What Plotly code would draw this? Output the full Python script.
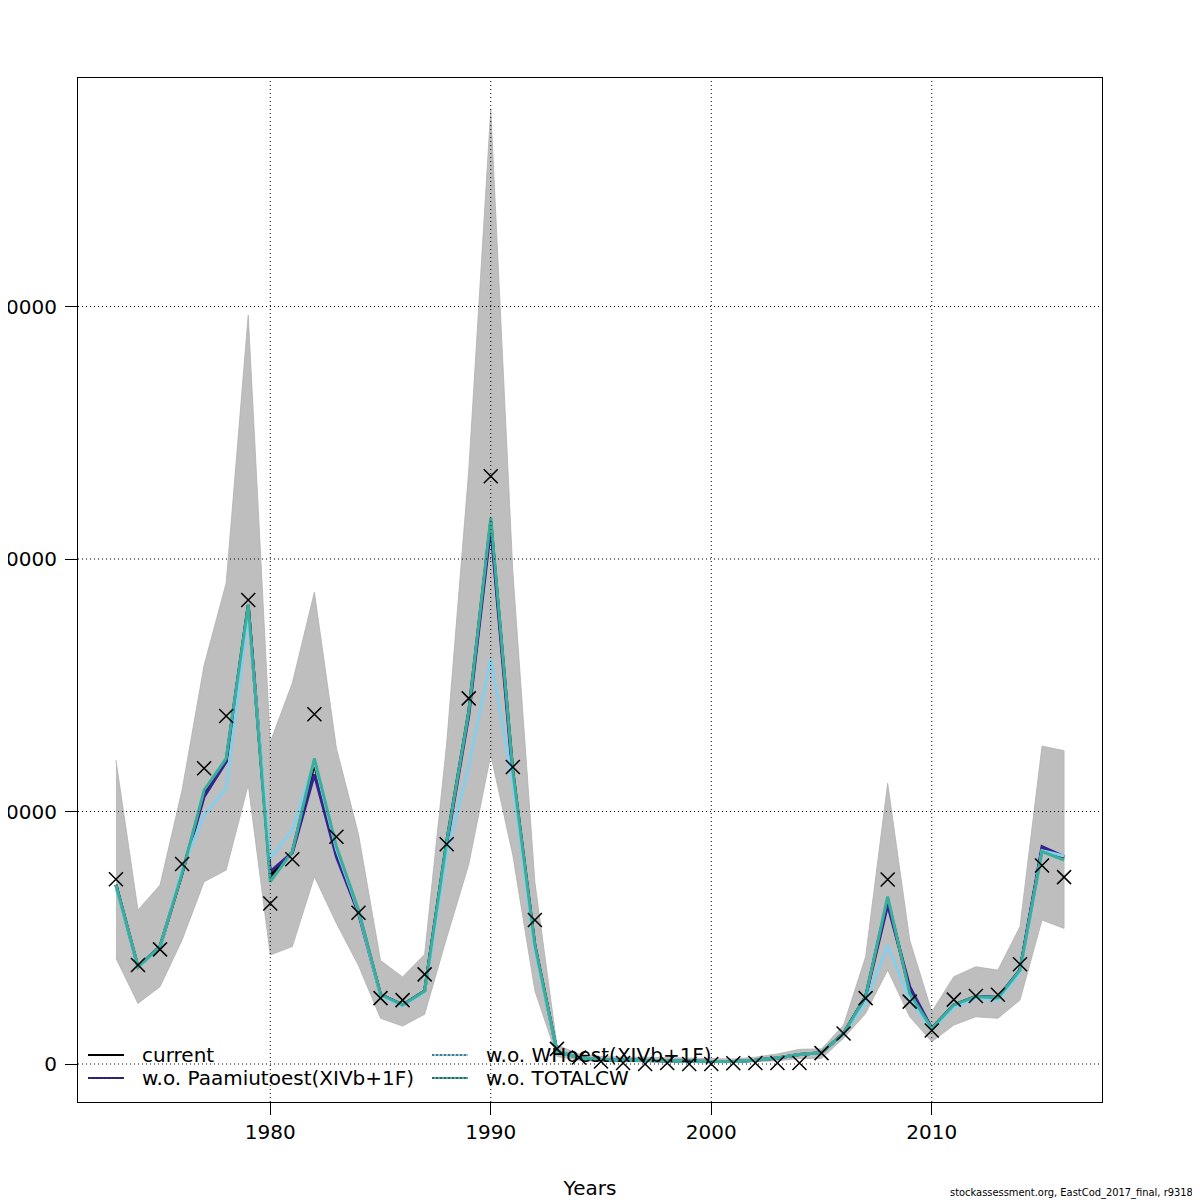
import plotly.graph_objects as go

years = list(range(1973, 2017))

# observed catch (crosses)
observed = [7320, 3920, 4540, 7920, 11710, 13780, 18380, 6360, 8110, 13850,
            9000, 5990, 2610, 2530, 3550, 8700, 14480, 23280, 11760, 5700,
            600, 260, 100, 40, 0, 40, 0, 0, 30, 40,
            40, 40, 430, 1210, 2610, 7310, 2470, 1330, 2550, 2690,
            2740, 3950, 7860, 7400]

current = [7090, 3850, 4650, 7550, 10700, 12000, 18180, 7450, 8400, 11900,
           8400, 6050, 2750, 2340, 2890, 8800, 13950, 21500, 11600, 4700,
           500, 250, 170, 150, 150, 140, 120, 100, 100, 150,
           240, 380, 450, 1210, 2670, 6500, 2900, 1410, 2340, 2670,
           2620, 3720, 8500, 8150]

wo_paamiut = [7090, 3850, 4650, 7550, 10590, 11970, 18100, 7620, 8370, 11470,
              8210, 5970, 2750, 2340, 2890, 8700, 13800, 21250, 11400, 4650,
              500, 250, 170, 150, 150, 140, 120, 100, 100, 150,
              240, 380, 450, 1210, 2670, 6300, 3060, 1410, 2340, 2670,
              2640, 3720, 8610, 8210]

wo_whoest = [7000, 3850, 4600, 7700, 9860, 10920, 17780, 8150, 9270, 12000,
             8500, 6050, 2700, 2300, 2850, 8300, 11800, 16060, 11100, 4500,
             500, 250, 170, 150, 150, 140, 120, 100, 100, 150,
             240, 380, 450, 1190, 2400, 4710, 2530, 1380, 2220, 2600,
             2530, 3600, 8450, 8240]

wo_totalcw = [7090, 3850, 4650, 7550, 10850, 12100, 18180, 7220, 8410, 12100,
              8610, 6100, 2750, 2340, 2890, 8800, 13950, 21640, 11600, 4700,
              500, 250, 170, 150, 150, 140, 120, 100, 100, 150,
              240, 380, 450, 1210, 2670, 6630, 2800, 1410, 2340, 2670,
              2620, 3720, 8410, 8080]

upper = [12040, 6100, 7090, 10850, 15800, 19050, 29660, 12750, 15090, 18690,
         12510, 9100, 4100, 3450, 4340, 12700, 23500, 37800, 19500, 7200,
         750, 400, 300, 270, 270, 250, 220, 200, 200, 270,
         400, 580, 600, 1540, 4250, 11120, 4910, 2070, 3460, 3850,
         3720, 5440, 12590, 12410]

lower = [4190, 2400, 3060, 4910, 7220, 7680, 11050, 4320, 4650, 7420,
         5570, 3900, 1810, 1500, 1970, 5000, 7900, 12240, 8260, 2900,
         300, 150, 100, 80, 80, 70, 60, 50, 50, 80,
         130, 220, 220, 1020, 2000, 3720, 1870, 880, 1540, 1870,
         1810, 2530, 5700, 5370]

x_ticks = [1980, 1990, 2000, 2010]
y_ticks = [0, 10000, 20000, 30000]
y_ticktext = ["0", "10000", "20000", "30000"]

series_names = ["current", "w.o. Paamiutoest(XIVb+1F)", "w.o. WHoest(XIVb+1F)", "w.o. TOTALCW"]
series_colors = ["black", "#35228f", "#87ceeb", "#3aae9c"]
series_dash = ["solid", "dash", "dot", "dot"]

font = "DejaVu Sans"

# the page body adds 8px, so the figure is 1192 wide and the plot box sits at 70..1094
W = 1192
L, T = 70, 70
S = 1024

fig = go.Figure()

# confidence band
fig.add_trace(go.Scatter(x=years + years[::-1], y=upper + lower[::-1],
                         fill="toself", fillcolor="#bebebe",
                         line=dict(color="#b0b0b0", width=0.8),
                         mode="lines", hoverinfo="skip", showlegend=False))

for vals, col in zip([current, wo_paamiut, wo_whoest, wo_totalcw], series_colors):
    fig.add_trace(go.Scatter(x=years, y=vals, mode="lines",
                             line=dict(color=col, width=3), showlegend=False))

fig.add_trace(go.Scatter(x=years, y=observed, mode="markers",
                         marker=dict(symbol="x-thin-open", size=14, color="black",
                                     line=dict(color="black", width=1.5)),
                         showlegend=False))

# dotted grid on top of band
shapes = []
for xv in x_ticks:
    shapes.append(dict(type="line", xref="x", yref="paper", x0=xv, x1=xv, y0=0, y1=1,
                       line=dict(color="black", width=1, dash="1px,3px"), layer="above"))
for yv in y_ticks:
    shapes.append(dict(type="line", xref="paper", yref="y", x0=0, x1=1, y0=yv, y1=yv,
                       line=dict(color="black", width=1, dash="1px,3px"), layer="above"))


# page pixel -> paper coords
def px(v):
    return (v - 8 - L) / S


def py(v):
    return (T + S - (v - 8)) / S


annotations = []
legend_pos = [(88, 1055), (88, 1078), (432, 1055), (432, 1078)]
for name, col, dash, (lx, ly) in zip(series_names, series_colors, series_dash, legend_pos):
    shapes.append(dict(type="line", xref="paper", yref="paper",
                       x0=px(lx), x1=px(lx + 36), y0=py(ly), y1=py(ly),
                       line=dict(color=col, width=2, dash="solid")))
    if dash != "solid":
        shapes.append(dict(type="line", xref="paper", yref="paper",
                           x0=px(lx), x1=px(lx + 36), y0=py(ly), y1=py(ly),
                           line=dict(color="#222222", width=1, dash="2px,2px")))
    annotations.append(dict(text=name, xref="paper", yref="paper",
                            x=px(lx + 52), y=py(ly), xanchor="left", yanchor="middle",
                            showarrow=False, font=dict(size=20, color="black", family=font)))

annotations.append(dict(text="Catch", xref="paper", yref="paper", x=px(-7), y=py(590),
                        textangle=-90, showarrow=False, xanchor="center", yanchor="middle",
                        font=dict(size=20, color="black", family=font)))
annotations.append(dict(text="stockassessment.org, EastCod_2017_final, r9318",
                        xref="paper", yref="paper", x=px(1195), y=py(1192),
                        xanchor="right", yanchor="middle", showarrow=False,
                        font=dict(size=11, color="black", family="DejaVu Sans Condensed")))

fig.update_layout(
    width=W, height=W,
    margin=dict(l=L, r=W - L - S, t=T, b=W - T - S, autoexpand=False),
    paper_bgcolor="white", plot_bgcolor="white",
    font=dict(family=font, size=20, color="black"),
    shapes=shapes, annotations=annotations,
    showlegend=False,
)

fig.update_xaxes(range=[1971.28, 2017.72], tickvals=x_ticks, ticks="outside", ticklen=12,
                 tickcolor="black", showgrid=False, zeroline=False,
                 showline=True, mirror=True, linecolor="black", linewidth=1,
                 title=dict(text="Years", standoff=44, font=dict(size=20, family=font)),
                 automargin=False)
fig.update_yaxes(range=[-1505, 39050], tickvals=y_ticks, ticktext=y_ticktext,
                 ticks="outside", ticklen=12, ticklabelstandoff=4, tickcolor="black",
                 showgrid=False, zeroline=False,
                 showline=True, mirror=True, linecolor="black", linewidth=1, automargin=False)

fig.write_html("out.html")
